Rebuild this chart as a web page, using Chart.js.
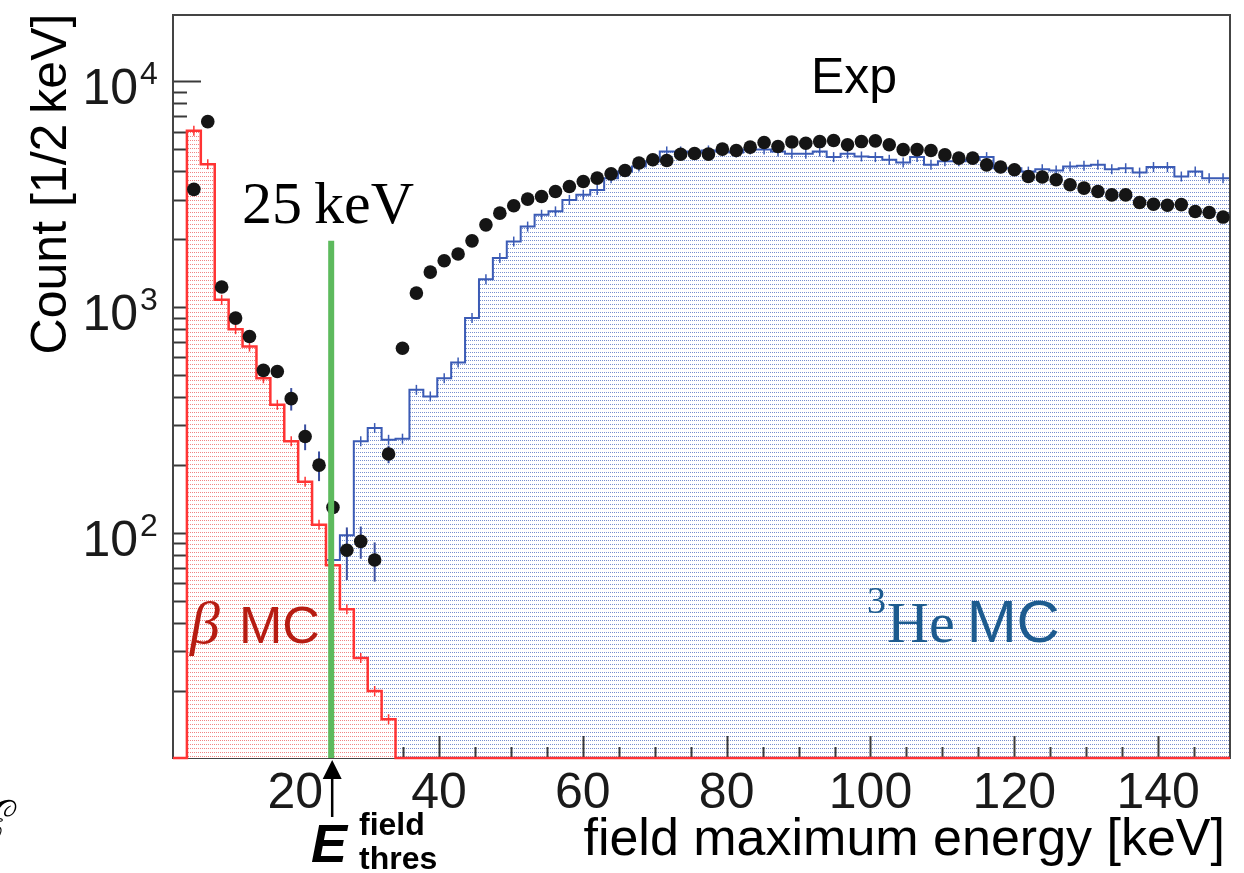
<!DOCTYPE html>
<html>
<head>
<meta charset="utf-8">
<title>field maximum energy</title>
<script src="https://cdn.jsdelivr.net/npm/chart.js@4.4.1/dist/chart.umd.min.js"></script>
<style>
  html, body { margin: 0; padding: 0; background: #fff; }
  canvas { display: block; }
</style>
</head>
<body>
<canvas id="spectrum" width="1244" height="873"></canvas>
<script>
// binning of the field maximum energy histograms (keV)
const binLow = 3;
const binHigh = 150;
const nBins = 76;

// axis ranges
const yMin = 10.1;
const yMax = 19700;

// threshold marker
const thresholdE = 25;
const thresholdTop = 1970;

// measured spectrum, counts per bin (null = empty bin)
const expCounts = [
  null, 3330, 6640, 1230, 896, 743, 526, 520, 394, 268,
  200, 130, 84, 92, 76, 224, 659, 1156, 1432, 1607,
  1722, 1970, 2318, 2612, 2816, 3015, 3097, 3257, 3428, 3607,
  3733, 3900, 4036, 4354, 4500, 4470, 4760, 4800, 4770, 5020,
  4945, 5120, 5370, 5155, 5400, 5330, 5420, 5480, 5250, 5420,
  5460, 5250, 4990, 4990, 4945, 4730, 4580, 4580, 4275, 4180,
  4065, 3795, 3775, 3673, 3490, 3373, 3257, 3147, 3147, 2910,
  2860, 2830, 2850, 2656, 2630, 2510
];
// statistical errors of the low energy bins of the measurement
const expErr = [0, 0, 0, 0, 0, 0, 30, 30, 45, 35, 30, 21, 22, 15, 15, 20];

// beta background simulation
const betaMC = [
  0, 6050, 4300, 1080, 800, 670, 485, 370, 255, 169,
  109, 72, 46, 28, 20, 15, 0, 0, 0, 0,
  0, 0, 0, 0, 0, 0, 0, 0, 0, 0,
  0, 0, 0, 0, 0, 0, 0, 0, 0, 0,
  0, 0, 0, 0, 0, 0, 0, 0, 0, 0,
  0, 0, 0, 0, 0, 0, 0, 0, 0, 0,
  0, 0, 0, 0, 0, 0, 0, 0, 0, 0,
  0, 0, 0, 0, 0, 0
];

// 3He capture simulation
const he3MC = [
  0, 0, 0, 0, 0, 0, 0, 0, 0, 0,
  0, 76, 98, 255, 292, 259, 262, 431, 403, 485,
  570, 896, 1333, 1652, 1955, 2278, 2570, 2660, 2990, 3150,
  3310, 3730, 3990, 4205, 4430, 4900, 4900, 4850, 4950, 4900,
  4850, 5000, 5000, 4900, 4790, 4790, 4900, 4625, 4790, 4655,
  4625, 4500, 4380, 4625, 4275, 4430, 4430, 4500, 4625, 4130,
  4130, 3990, 4090, 4035, 4205, 4235, 4275, 4090, 4130, 3950,
  4180, 4180, 3795, 3990, 3730, 3730
];

const xMajorTicks = [20, 40, 60, 80, 100, 120, 140];
const yDecades = [100, 1000, 10000];
const yDecadeExp = ['2', '3', '4'];

const binWidth = (binHigh - binLow) / nBins;
const binEdge = i => binLow + i * binWidth;
const binCenter = i => binLow + (i + 0.5) * binWidth;

// stepped outline: one point per lower bin edge plus the closing edge,
// empty bins sit on the bottom of the frame like on a ROOT log pad
function histPoints(values) {
  const pts = values.map((v, i) => ({ x: binEdge(i), y: v > 0 ? v : yMin }));
  const last = values[values.length - 1];
  pts.push({ x: binHigh, y: last > 0 ? last : yMin });
  return pts;
}

function expPoints() {
  const pts = [];
  expCounts.forEach((v, i) => { if (v !== null) pts.push({ x: binCenter(i), y: v }); });
  return pts;
}

function dotPattern(dot) {
  const c = document.createElement('canvas');
  c.width = 2; c.height = 4;
  const g = c.getContext('2d');
  g.fillStyle = '#ffffff';
  g.fillRect(0, 0, 2, 4);
  g.fillStyle = dot;
  g.fillRect(0, 0, 1, 1);
  return g.createPattern(c, 'repeat');
}

const redLine = '#ff3434';
const blueLine = '#3b5bb5';

function drawHistErrors(chart, values, color) {
  const ctx = chart.ctx, xs = chart.scales.x, ys = chart.scales.y;
  ctx.save();
  ctx.strokeStyle = color;
  ctx.lineWidth = 1.5;
  values.forEach((v, i) => {
    if (v <= 0) return;
    const px = xs.getPixelForValue(binCenter(i));
    const py = ys.getPixelForValue(v);
    ctx.beginPath();
    ctx.moveTo(px, py - 5);
    ctx.lineTo(px, py + 5);
    ctx.stroke();
  });
  ctx.restore();
}

function drawExpErrors(chart) {
  const ctx = chart.ctx, xs = chart.scales.x, ys = chart.scales.y;
  ctx.save();
  ctx.strokeStyle = '#3a4fa0';
  ctx.lineWidth = 2;
  expErr.forEach((e, i) => {
    if (!e || expCounts[i] === null) return;
    const px = xs.getPixelForValue(binCenter(i));
    ctx.beginPath();
    ctx.moveTo(px, ys.getPixelForValue(expCounts[i] + e));
    ctx.lineTo(px, ys.getPixelForValue(expCounts[i] - e));
    ctx.stroke();
  });
  ctx.restore();
}

// frame and ticks go between the 3He and the beta histogram,
// so the beta fill hides the ticks it covers
function drawFrame(chart) {
  const ctx = chart.ctx, a = chart.chartArea;
  const xs = chart.scales.x, ys = chart.scales.y;
  ctx.save();
  ctx.strokeStyle = '#3a3a3a';
  ctx.lineWidth = 2;
  for (let v = 5; v < binHigh; v += 5) {
    const px = Math.round(xs.getPixelForValue(v)) + 0.5;
    const len = xMajorTicks.includes(v) ? 22 : 11;
    ctx.beginPath();
    ctx.moveTo(px, a.bottom);
    ctx.lineTo(px, a.bottom - len);
    ctx.stroke();
  }
  [10, 100, 1000, 10000].forEach(d => {
    for (let m = 1; m <= 9; m++) {
      const v = m * d;
      if (v < yMin || v > yMax) continue;
      const py = Math.round(ys.getPixelForValue(v)) + 0.5;
      const len = m === 1 ? 28 : 14;
      ctx.beginPath();
      ctx.moveTo(a.left, py);
      ctx.lineTo(a.left + len, py);
      ctx.stroke();
    }
  });
  ctx.strokeStyle = '#444';
  ctx.strokeRect(a.left, a.top, a.right - a.left, a.bottom - a.top);
  ctx.restore();
}

function drawTexts(chart) {
  const ctx = chart.ctx, xs = chart.scales.x, ys = chart.scales.y;
  const sans = 'Liberation Sans, Arial, Helvetica, sans-serif';
  const serif = 'Liberation Serif, Times New Roman, serif';
  ctx.save();
  ctx.fillStyle = '#1a1a1a';

  // x tick labels
  ctx.font = '50px ' + sans;
  ctx.textAlign = 'center';
  ctx.textBaseline = 'alphabetic';
  xMajorTicks.forEach(v => ctx.fillText(String(v), xs.getPixelForValue(v), 808));

  // y tick labels 10^n
  yDecades.forEach((v, k) => {
    const py = ys.getPixelForValue(v);
    ctx.font = '50px ' + sans;
    ctx.textAlign = 'right';
    ctx.fillText('10', 138, py + 23);
    ctx.font = '32px ' + sans;
    ctx.textAlign = 'left';
    ctx.fillText(yDecadeExp[k], 140, py + 3);
  });

  // axis titles
  ctx.fillStyle = '#000';
  ctx.font = '52px ' + sans;
  ctx.textAlign = 'right';
  ctx.fillText('field maximum energy [keV]', 1225, 855);

  ctx.save();
  ctx.translate(66, 184);
  ctx.rotate(-Math.PI / 2);
  ctx.textAlign = 'center';
  ctx.font = '50px ' + sans;
  ctx.fillText('Count [1/2\u2009keV]', 0, 0);
  ctx.restore();

  // threshold arrow and label under the axis
  const tx = xs.getPixelForValue(thresholdE) + 1;
  ctx.strokeStyle = '#000';
  ctx.lineWidth = 2.5;
  ctx.beginPath();
  ctx.moveTo(tx, 817);
  ctx.lineTo(tx, 776);
  ctx.stroke();
  ctx.beginPath();
  ctx.moveTo(tx, 760);
  ctx.lineTo(tx - 9.5, 779);
  ctx.lineTo(tx + 9.5, 779);
  ctx.closePath();
  ctx.fill();
  ctx.textAlign = 'left';
  ctx.font = 'italic bold 54px ' + sans;
  ctx.fillText('E', 311, 862);
  ctx.font = 'bold 32px ' + sans;
  ctx.fillText('field', 359, 835);
  ctx.fillText('thres', 359, 869);

  // in-pad labels
  ctx.font = '60px ' + serif;
  ctx.fillText('25\u2009keV', 242, 223);
  ctx.font = '50px ' + sans;
  ctx.fillText('Exp', 811, 93);

  ctx.fillStyle = '#b71c12';
  ctx.font = 'italic 60px ' + serif;
  ctx.fillText('\u03b2', 190, 643);
  ctx.font = '52px ' + sans;
  ctx.fillText('MC', 239, 643);

  ctx.fillStyle = '#1d5b8f';
  ctx.font = '38px ' + serif;
  ctx.fillText('3', 867, 613);
  ctx.font = '58px ' + serif;
  ctx.fillText('He', 887, 642);
  const heW = ctx.measureText('He').width;
  ctx.font = '60px ' + sans;
  ctx.fillText('MC', 887 + heW + 12, 642);

  // cut glyph at the page edge
  ctx.fillStyle = '#000';
  ctx.font = 'italic 62px ' + serif;
  ctx.textAlign = 'right';
  ctx.fillText('\u2130', 6, 845);
  ctx.restore();
}

const padDecor = {
  id: 'padDecor',
  beforeDatasetDraw(chart, args) {
    if (args.index === 1) drawExpErrors(chart);
  },
  afterDatasetDraw(chart, args) {
    if (args.index === 3) {
      drawHistErrors(chart, he3MC, blueLine);
      drawFrame(chart);
    }
    if (args.index === 2) drawHistErrors(chart, betaMC, redLine);
  },
  afterDraw(chart) {
    drawTexts(chart);
  }
};

const ctx = document.getElementById('spectrum').getContext('2d');
new Chart(ctx, {
  type: 'line',
  data: {
    datasets: [
      {
        label: 'threshold',
        data: [{ x: thresholdE, y: yMin }, { x: thresholdE, y: thresholdTop }],
        borderColor: '#5dba5d',
        borderWidth: 6,
        pointRadius: 0,
        fill: false,
        order: 0
      },
      {
        label: 'Exp',
        data: expPoints(),
        showLine: false,
        pointRadius: 6.8,
        pointBackgroundColor: '#151515',
        pointBorderWidth: 0,
        order: 1
      },
      {
        label: 'beta MC',
        data: histPoints(betaMC),
        stepped: 'before',
        borderColor: redLine,
        borderWidth: 2.5,
        pointRadius: 0,
        fill: 'start',
        backgroundColor: dotPattern('#f08585'),
        clip: 4,
        order: 2
      },
      {
        label: '3He MC',
        data: histPoints(he3MC),
        stepped: 'before',
        borderColor: blueLine,
        borderWidth: 2,
        pointRadius: 0,
        fill: 'start',
        backgroundColor: dotPattern('#7890d0'),
        order: 3
      }
    ]
  },
  options: {
    responsive: false,
    animation: false,
    devicePixelRatio: 1,
    layout: { padding: { left: 173, right: 14, top: 15, bottom: 115 } },
    plugins: {
      legend: { display: false },
      tooltip: { enabled: false }
    },
    scales: {
      x: { type: 'linear', min: binLow, max: binHigh, display: false },
      y: { type: 'logarithmic', min: yMin, max: yMax, display: false }
    }
  },
  plugins: [padDecor]
});
</script>
</body>
</html>
